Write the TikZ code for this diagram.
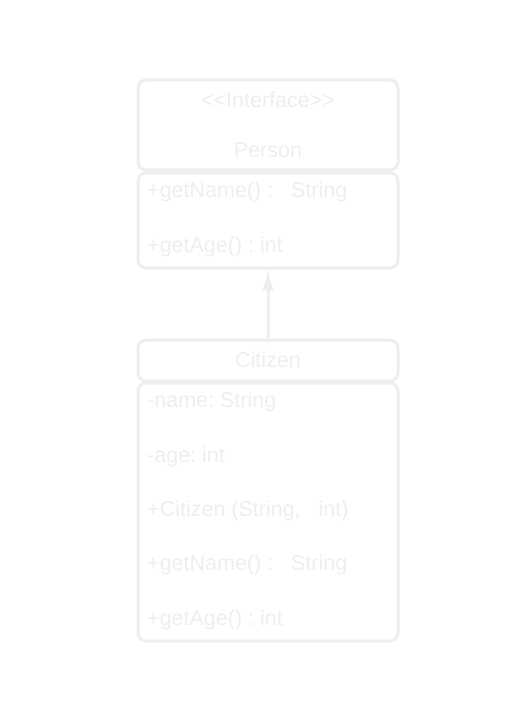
\documentclass[tikz,border=0pt]{standalone}
\usepackage{fontspec}
\setmainfont{Liberation Sans}
\usetikzlibrary{arrows.meta}
\definecolor{umlgray}{RGB}{238,238,238}
\frenchspacing

\tikzset{
  umlbox/.style={draw=umlgray, line width=3pt, rounded corners=8pt, inner sep=0pt},
  umltext/.style={text=umlgray, inner sep=0pt, font=\fontsize{21.5}{25}\selectfont}
}

\begin{document}
\begin{tikzpicture}[x=1pt,y=-1pt,>={Latex[length=22pt,width=12pt]}]

\useasboundingbox (0,0) rectangle (520,719);

%Interface Person
\node[umlbox, minimum width=260pt, minimum height=90pt] (personhead) at (268,125) {};
\node[umlbox, minimum width=260pt, minimum height=95pt] (personbody) at (268,220.5) {};
\node[umltext] (stereo) at (268,100) {<\kern0pt<Interface>\kern0pt>};
\node[umltext] (personname) at (268,150) {Person};
\node[umltext, anchor=west] (pgetname) at (147,192) {+getName() :\ \ \ String};
\node[umltext, anchor=west] (pgetage) at (147,247) {+getAge() : int};

%Klasse Citizen
\node[umlbox, minimum width=260pt, minimum height=41pt] (citizenhead) at (268,360.5) {};
\node[umlbox, minimum width=260pt, minimum height=258pt] (citizenbody) at (268,512) {};
\node[umltext] (citizenname) at (268,360) {Citizen};
\node[umltext, anchor=west] (cname) at (147,402) {-name: String};
\node[umltext, anchor=west] (cage) at (147,457) {-age: int};
\node[umltext, anchor=west] (cctor) at (147,511) {+Citizen (String,\ \ \ int)};
\node[umltext, anchor=west] (cgetname) at (147,565) {+getName() :\ \ \ String};
\node[umltext, anchor=west] (cgetage) at (147,620) {+getAge() : int};

%Vererbung
\draw[->, draw=umlgray, fill=umlgray, line width=3pt, shorten >=-1pt] (citizenhead.north) -- (personbody.south);

\end{tikzpicture}
\end{document}
